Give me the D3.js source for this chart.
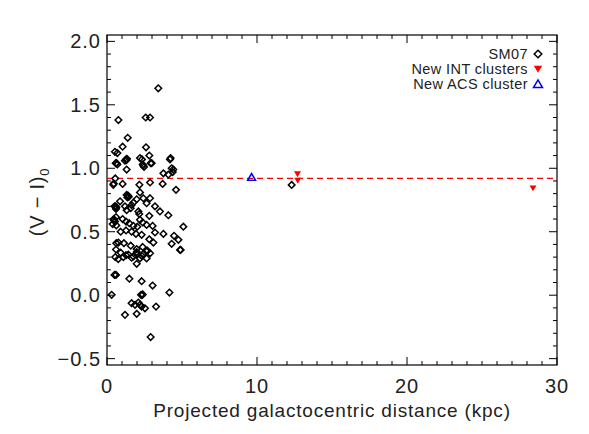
<!DOCTYPE html>
<html><head><meta charset="utf-8">
<script src="https://cdn.jsdelivr.net/npm/d3@7"></script>
<style>body{margin:0;background:#fff}svg{display:block}text{font-family:"Liberation Sans",Arial,sans-serif;fill:#222}</style>
</head><body><svg id="c" width="589" height="434"></svg>
<script>
// SM07 clusters: projected distance (kpc) and (V-I)0
const sm07X = [3.42,0.76,2.58,2.87,1.38,1.04,2.60,0.69,1.27,1.33,1.30,2.20,2.33,2.82,4.24,2.91,2.42,2.47,0.69,1.31,4.42,
 0.64,1.20,2.38,2.98,4.20,3.76,4.09,4.38,4.31,
 0.42,1.04,2.16,2.87,3.71,4.60,
 1.31,1.40,1.45,1.36,2.20,1.98,2.42,0.87,2.87,2.64,3.20,1.76,1.64,
 0.58,0.62,0.60,1.20,1.31,1.58,2.09,2.15,2.82,3.53,4.09,
 0.60,0.47,0.38,1.04,1.27,1.49,1.76,2.20,2.38,2.64,3.04,2.02,3.20,3.76,4.47,5.09,
 0.91,1.27,1.64,1.93,2.31,2.82,3.09,4.31,4.76,4.91,
 0.76,1.13,1.58,1.98,2.38,2.69,
 0.60,0.91,1.27,1.64,1.98,2.31,2.64,
 0.75,1.09,1.42,1.76,1.98,2.20,2.42,2.64,2.87,4.87,
 1.98,0.60,1.49,2.31,3.04,0.31,2.27,2.33,2.38,4.16,
 1.64,1.87,2.09,2.20,2.31,2.53,3.27,1.20,1.98,2.91,
 0.53,0.58,0.45,0.55,0.50,0.45,0.53,0.62,0.62,0.55,0.50,
 12.31];
const sm07Y = [1.63,1.38,1.40,1.40,1.24,1.17,1.165,1.12,1.07,1.075,1.065,1.08,1.07,1.10,1.08,1.04,1.02,1.01,1.03,0.99,0.99,
 1.04,1.06,1.03,1.04,1.07,0.96,0.95,0.97,1.00,
 0.87,0.877,0.87,0.888,0.877,0.83,
 0.79,0.785,0.775,0.77,0.81,0.756,0.764,0.74,0.764,0.725,0.70,0.73,0.71,
 0.70,0.69,0.68,0.70,0.67,0.685,0.66,0.64,0.625,0.66,0.63,
 0.615,0.59,0.56,0.60,0.58,0.567,0.546,0.594,0.573,0.554,0.546,0.54,0.494,0.483,0.468,0.54,
 0.50,0.51,0.50,0.483,0.476,0.44,0.415,0.405,0.436,0.357,
 0.415,0.41,0.39,0.363,0.38,0.352,
 0.36,0.335,0.315,0.295,0.325,0.31,0.29,
 0.285,0.30,0.32,0.305,0.34,0.29,0.326,0.345,0.33,0.357,
 0.247,0.16,0.13,0.11,0.076,0.003,0.003,0.0,0.006,0.021,
 -0.063,-0.076,-0.058,-0.076,-0.09,-0.103,-0.09,-0.155,-0.147,-0.33,
 1.13,1.04,0.88,0.92,0.70,0.60,0.58,0.55,0.41,0.30,0.16,
 0.869];
// New INT clusters
const intX = [12.70, 12.72, 28.4];
const intY = [0.955, 0.903, 0.843];
// New ACS cluster
const acsX = [9.64];
const acsY = [0.93];
const meanColour = 0.92;
const xTicks = [0, 10, 20, 30];
const yTicks = [-0.5, 0.0, 0.5, 1.0, 1.5, 2.0];
const legendLabels = ["SM07", "New INT clusters", "New ACS cluster"];

const svg = d3.select("#c");
const L = 107, R = 557, T = 35, B = 365;
const x = d3.scaleLinear().domain([0, 30]).range([L, R]);
const y = d3.scaleLinear().domain([-0.55, 2.05]).range([B, T]);

// frame
svg.append("rect").attr("x", L).attr("y", T).attr("width", R - L).attr("height", B - T)
  .attr("fill", "none").attr("stroke", "#000").attr("stroke-width", 1.2);

// ticks
const g = svg.append("g").attr("stroke", "#000").attr("stroke-width", 1);
d3.range(0, 31, 1).forEach(v => {
  const major = v % 10 === 0, len = major ? 8 : 4;
  g.append("line").attr("x1", x(v)).attr("x2", x(v)).attr("y1", B).attr("y2", B - len);
  g.append("line").attr("x1", x(v)).attr("x2", x(v)).attr("y1", T).attr("y2", T + len);
});
d3.range(-5, 21, 1).map(v => v / 10).forEach(v => {
  const major = Math.abs(v * 2 - Math.round(v * 2)) < 1e-6, len = major ? 8 : 4;
  g.append("line").attr("x1", L).attr("x2", L + len).attr("y1", y(v)).attr("y2", y(v));
  g.append("line").attr("x1", R).attr("x2", R - len).attr("y1", y(v)).attr("y2", y(v));
});

// tick labels
svg.selectAll(".xl").data(xTicks).enter().append("text")
  .attr("x", d => x(d)).attr("y", 393).attr("text-anchor", "middle")
  .attr("font-size", 20).attr("letter-spacing", 1).text(d => d);
svg.selectAll(".yl").data(yTicks).enter().append("text")
  .attr("x", 101).attr("y", d => y(d) + 7).attr("text-anchor", "end")
  .attr("font-size", 20).attr("letter-spacing", 1).text(d => (d < 0 ? "\u2212" : "") + Math.abs(d).toFixed(1));

// axis titles
svg.append("text").attr("x", (L + R) / 2).attr("y", 417).attr("text-anchor", "middle")
  .attr("font-size", 19).attr("letter-spacing", 0.8).text("Projected galactocentric distance (kpc)");
const yt = svg.append("text").attr("transform", "translate(44,202) rotate(-90)")
  .attr("text-anchor", "middle").attr("font-size", 20).attr("letter-spacing", 0.8);
yt.append("tspan").text("(V \u2212 I)");
yt.append("tspan").attr("font-size", 13).attr("dy", 5).text("0");

// dashed mean line
svg.append("line").attr("x1", x(0)).attr("x2", x(30)).attr("y1", y(meanColour)).attr("y2", y(meanColour))
  .attr("stroke", "#ff0000").attr("stroke-width", 1.3).attr("stroke-dasharray", "6,4");

// symbols
const diamond = (cx, cy, r) => `M${cx},${cy - r}L${cx + r},${cy}L${cx},${cy + r}L${cx - r},${cy}Z`;
const triDown = (cx, cy, r) => `M${cx - r},${cy - r * 0.8}L${cx + r},${cy - r * 0.8}L${cx},${cy + r * 0.9}Z`;
const triUp = (cx, cy, r) => `M${cx - r},${cy + r * 0.8}L${cx + r},${cy + r * 0.8}L${cx},${cy - r * 0.9}Z`;

svg.append("g").selectAll("path").data(sm07X.map((d, i) => [d, sm07Y[i]])).enter().append("path")
  .attr("d", d => diamond(x(d[0]), y(d[1]), 3.3))
  .attr("fill", "none").attr("stroke", "#000").attr("stroke-width", 1.5);
svg.append("g").selectAll("path").data(intX.map((d, i) => [d, intY[i]])).enter().append("path")
  .attr("d", d => triDown(x(d[0]), y(d[1]), 3.5)).attr("fill", "#ff0000");
svg.append("g").selectAll("path").data(acsX.map((d, i) => [d, acsY[i]])).enter().append("path")
  .attr("d", d => triUp(x(d[0]), y(d[1]), 4)).attr("fill", "none").attr("stroke", "#0000ff").attr("stroke-width", 1.5);

// legend
const ly = [54, 69, 84];
legendLabels.forEach((t, i) => {
  svg.append("text").attr("x", 528).attr("y", ly[i] + 5).attr("text-anchor", "end")
    .attr("font-size", 14.5).attr("letter-spacing", 0.4).text(t);
});
svg.append("path").attr("d", diamond(538, ly[0], 3.8)).attr("fill", "none").attr("stroke", "#000").attr("stroke-width", 1.5);
svg.append("path").attr("d", triDown(538, ly[1], 4.2)).attr("fill", "#ff0000");
svg.append("path").attr("d", triUp(538, ly[2], 4.5)).attr("fill", "none").attr("stroke", "#0000ff").attr("stroke-width", 1.5);
</script></body></html>
